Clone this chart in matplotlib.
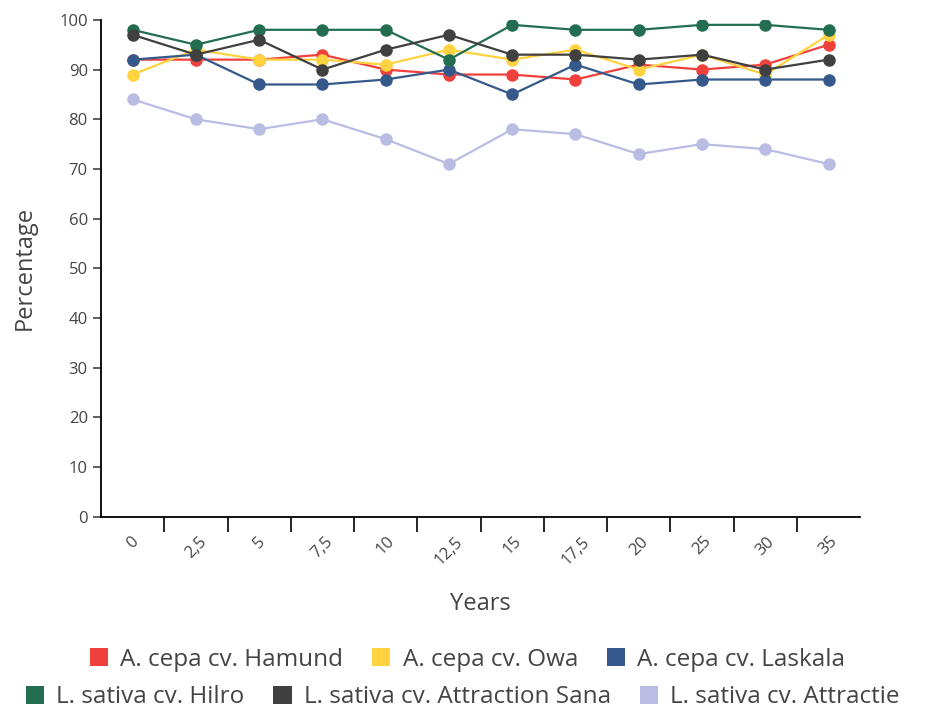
import numpy as np
import matplotlib.pyplot as plt
from matplotlib.patches import Patch

years = ["0", "2,5", "5", "7,5", "10", "12,5", "15", "17,5", "20", "25", "30", "35"]
hamund = [92, 92, 92, 93, 90, 89, 89, 88, 91, 90, 91, 95]
owa = [89, 94, 92, 92, 91, 94, 92, 94, 90, 93, 89, 97]
laskala = [92, 93, 87, 87, 88, 90, 85, 91, 87, 88, 88, 88]
hilro = [98, 95, 98, 98, 98, 92, 99, 98, 98, 99, 99, 98]
attraction_sana = [97, 93, 96, 90, 94, 97, 93, 93, 92, 93, 90, 92]
attractie = [84, 80, 78, 80, 76, 71, 78, 77, 73, 75, 74, 71]

names = ["A. cepa cv. Hamund", "A. cepa cv. Owa", "A. cepa cv. Laskala",
         "L. sativa cv. Hilro", "L. sativa cv. Attraction Sana", "L. sativa cv. Attractie"]
series = [hamund, owa, laskala, hilro, attraction_sana, attractie]
colors = ["#f0403c", "#ffd23f", "#34598a", "#236e50", "#404040", "#b9bce3"]

plt.rcParams['font.family'] = ['Open Sans', 'DejaVu Sans']
text_col = "#444444"

fig = plt.figure(figsize=(9.35, 7.1), dpi=100)
ax = fig.add_axes([0.108, 0.272, 0.812, 0.700])

x = np.arange(len(years))
for vals, c in zip(series, colors):
    ax.plot(x, vals, color=c, lw=1.6, marker='o', ms=8, zorder=3)

ax.set_xlim(-0.5, len(years) - 0.5)
ax.set_ylim(0, 100)
ax.set_yticks(range(0, 101, 10))
ax.tick_params(axis='y', labelsize=12, colors=text_col, length=6, width=1.2)
for t in ax.get_yticklabels():
    t.set_color(text_col)

# ticks at band edges, labels at band centres
ax.set_xticks(np.arange(len(years) - 1) + 0.5)
ax.set_xticklabels([])
ax.tick_params(axis='x', which='major', length=11, width=1.2, color='black')
ax.set_xticks(x, minor=True)
ax.set_xticklabels(years, minor=True, rotation=45, ha='center', va='top', fontsize=12, color=text_col)
ax.tick_params(axis='x', which='minor', length=0, pad=12)

for s in ['top', 'right']:
    ax.spines[s].set_visible(False)
for s in ['left', 'bottom']:
    ax.spines[s].set_linewidth(1.3)

ax.set_xlabel("Years", fontsize=17, color=text_col, labelpad=17)
ax.set_ylabel("Percentage", fontsize=17, color=text_col, labelpad=16)

handles = [Patch(facecolor=c, edgecolor='none') for c in colors]
kw = dict(frameon=False, fontsize=17.5, handlelength=0.75, handleheight=0.75,
          handletextpad=0.5, columnspacing=1.2, labelcolor=text_col)
fig.legend(handles[:3], names[:3], ncol=3, loc='center', bbox_to_anchor=(0.5, 0.071), **kw)
fig.legend(handles[3:], names[3:], ncol=3, loc='center left', bbox_to_anchor=(0.004, 0.018), **kw)

fig.savefig("out.png", dpi=100)
